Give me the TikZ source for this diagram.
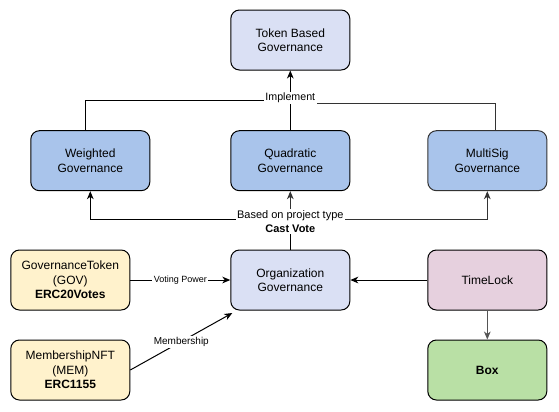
\documentclass[tikz,border=0pt]{standalone}
\usepackage{fontspec}
\setmainfont{Liberation Sans}
\usetikzlibrary{arrows.meta}
\definecolor{lav}{HTML}{DAE0F4}
\definecolor{blu}{HTML}{A9C4EB}
\definecolor{yel}{HTML}{FFF2CC}
\definecolor{pnk}{HTML}{E6D0DE}
\definecolor{grn}{HTML}{B9E0A5}
\definecolor{gry}{HTML}{555555}
\definecolor{dgry}{HTML}{333333}
\begin{document}
\begin{tikzpicture}[x=0.75pt,y=-0.75pt,
  nbox/.style={draw=black, line width=0.75pt, rounded corners=6.5pt,
    minimum width=89.25pt, minimum height=45pt, inner sep=0pt, align=center,
    font=\fontsize{9}{10.8}\selectfont},
  conn/.style={line width=0.75pt},
  arr/.style={conn, -{Stealth[length=6pt,width=5pt,inset=1.8pt]}},
  lbl/.style={fill=white, inner sep=1pt, align=center},
]
\useasboundingbox (0,0) rectangle (559,411);

\node[nbox, fill=lav] (tok) at (290.3,40) {Token Based\\Governance};
\node[nbox, fill=blu] (wei) at (90.3,160.7) {Weighted\\Governance};
\node[nbox, fill=blu] (qua) at (290.3,160.7) {Quadratic\\Governance};
\node[nbox, fill=blu, draw=dgry] (mul) at (487.3,160.7) {MultiSig\\Governance};
\node[nbox, fill=lav] (org) at (290.3,280) {Organization\\Governance};
\node[nbox, fill=yel] (gov) at (70.3,280) {GovernanceToken\\(GOV)\\\textbf{ERC20Votes}};
\node[nbox, fill=yel] (mem) at (70.3,370) {MembershipNFT\\(MEM)\\\textbf{ERC1155}};
\node[nbox, fill=pnk] (tim) at (487.3,280) {TimeLock};
\node[nbox, fill=grn] (box) at (487.3,370) {\textbf{Box}};

% Implement
\coordinate (impL) at (290.3,100);
\coordinate (impR) at (290.3,103);
\draw[conn] ([xshift=-3.5pt]wei.north) |- (impL);
\draw[conn, dgry] ([xshift=6.5pt]mul.north) |- (impR);
\draw[arr] (qua.north) -- (tok.south);
\node[lbl, font=\fontsize{8}{9.6}\selectfont] (implbl) at (290.3,98) {Implement};

% Cast vote
\coordinate (cv) at (290.3,219.3);
\draw[conn] (org.north) -- (cv);
\draw[arr] (cv) -| (wei.south);
\draw[arr, dgry] (cv) -- (qua.south);
\draw[arr, dgry] (cv) -| (mul.south);
\node[lbl, font=\fontsize{8.25}{10.5}\selectfont] (cvlbl) at (290.3,221.3) {Based on project type\\\textbf{Cast Vote}};

% Voting power / membership
\draw[arr] (gov.east) -- node[lbl, font=\fontsize{6.75}{8}\selectfont] (vplbl) {Voting Power} (org.west);
\draw[arr] (mem.east) -- node[lbl, font=\fontsize{7.5}{9}\selectfont] (memlbl) {Membership} ([xshift=1.5pt,yshift=-1.9pt]org.south west);

% Timelock
\draw[arr] (tim.west) -- (org.east);
\draw[arr, gry] (tim.south) -- (box.north);
\end{tikzpicture}
\end{document}
